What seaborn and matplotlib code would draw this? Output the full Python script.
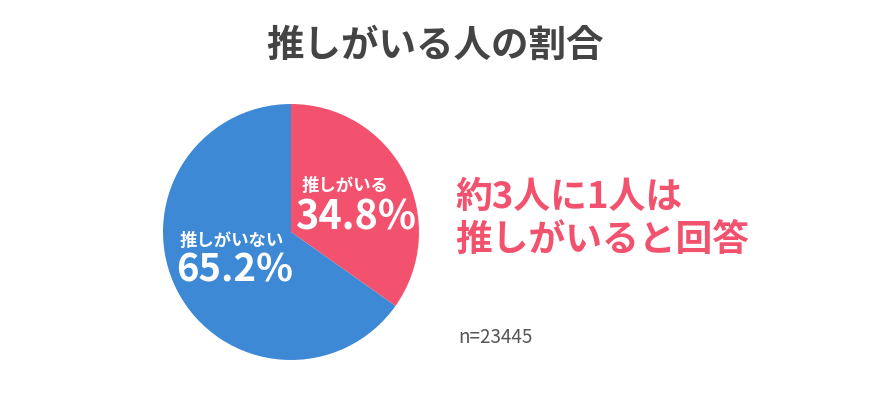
import matplotlib
matplotlib.use("Agg")
import matplotlib.pyplot as plt
import seaborn as sns

sns.set_theme(style="white")
plt.rcParams['font.family'] = ['Noto Sans CJK JP', 'DejaVu Sans']

categories = ["推しがいる", "推しがいない"]
values = [34.8, 65.2]
colors = ["#F2526E", "#3D89D5"]
title = "推しがいる人の割合"
note = "約3人に1人は\n推しがいると回答"
n_label = "n=23445"

fig = plt.figure(figsize=(8.7, 4.06), dpi=100)
fig.patch.set_facecolor("white")
ax = fig.add_axes([291/870 - 128/870, 1 - (233 + 128)/406, 256/870, 256/406])
ax.pie(values, colors=colors, startangle=90, counterclock=False, radius=1.0,
       wedgeprops=dict(linewidth=0))
ax.set_xlim(-1, 1); ax.set_ylim(-1, 1); ax.set_aspect("equal")
ax.axis("off")

def fx(px): return px / 870
def fy(py): return 1 - py / 406

fig.text(0.5, fy(45), title, ha="center", va="center", fontsize=27, fontweight="bold", color="#444444")
fig.text(fx(345), fy(186), categories[0], ha="center", va="center", fontsize=12.5, fontweight="bold", color="white")
fig.text(fx(356), fy(218), f"{values[0]}%", ha="center", va="center", fontsize=28.5, fontweight="bold", color="white")
fig.text(fx(232), fy(241), categories[1], ha="center", va="center", fontsize=12.5, fontweight="bold", color="white")
fig.text(fx(235), fy(270), f"{values[1]}%", ha="center", va="center", fontsize=27.5, fontweight="bold", color="white")
fig.text(fx(455), fy(219), note, ha="left", va="center", fontsize=26.5, fontweight="bold", color="#F2526E", linespacing=1.2)
fig.text(fx(458), fy(338), n_label, ha="left", va="center", fontsize=13.5, color="#555555")

fig.savefig("out.png", dpi=100, facecolor="white")
